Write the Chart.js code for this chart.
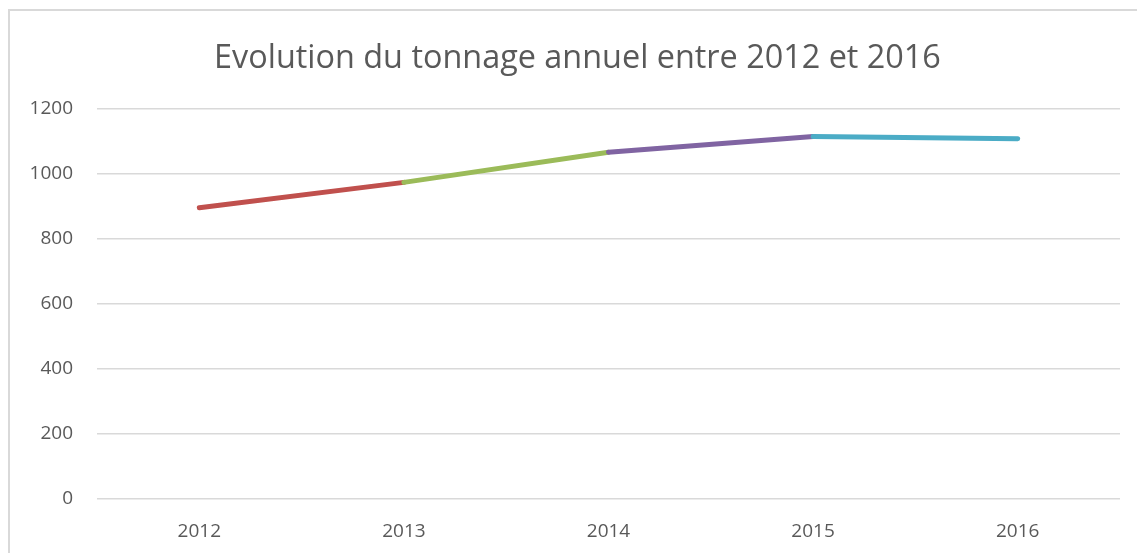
<!DOCTYPE html>
<html>
<head>
<meta charset="utf-8">
<script src="https://cdn.jsdelivr.net/npm/chart.js@4/dist/chart.umd.min.js"></script>
<style>
  html, body { margin: 0; padding: 0; background: #fff; overflow: hidden; }
  #frame {
    position: absolute; left: 8px; top: 9px;
    width: 1200px; height: 600px;
    border: 2px solid #d9d9d9;
  }
  #wrap { position: absolute; left: 0; top: 0; width: 1137px; height: 553px; }
</style>
</head>
<body>
<div id="frame"></div>
<div id="wrap"><canvas id="myChart"></canvas></div>
<script>
// Years and tonnage
const years = ["2012", "2013", "2014", "2015", "2016"];
const tonnage = [894, 972, 1065, 1113, 1106];
const yTicks = [0, 200, 400, 600, 800, 1000, 1200];

// One colour per segment (2012-13, 2013-14, 2014-15, 2015-16)
const segmentColors = ["#C0504D", "#9BBB59", "#8064A2", "#4BACC6"];

const textColor = "#595959";
const gridColor = "#d9d9d9";

// The original chart box runs past the right edge, so its title sits a bit right of centre
const titleShift = {
    id: "titleShift",
    afterLayout(chart) {
        if (chart.titleBlock) chart.titleBlock.left = 35;
    }
};

const config = {
    type: "line",
    data: {
        labels: years,
        datasets: [{
            label: "Tonnage",
            data: tonnage,
            borderWidth: 5,
            borderCapStyle: "round",
            borderJoinStyle: "round",
            pointRadius: 0,
            tension: 0,
            fill: false,
            borderColor: segmentColors[0],
            segment: {
                borderColor: ctx => segmentColors[ctx.p0DataIndex]
            }
        }]
    },
    options: {
        responsive: true,
        maintainAspectRatio: false,
        animation: false,
        events: [],
        layout: { padding: { left: 0, right: 17, top: 0, bottom: 0 } },
        plugins: {
            legend: { display: false },
            tooltip: { enabled: false },
            title: {
                display: true,
                text: "Evolution du tonnage annuel entre 2012 et 2016",
                color: textColor,
                font: { family: "'Open Sans', sans-serif", size: 32.4, weight: "normal" },
                padding: { top: 39, bottom: 30.4 }
            }
        },
        scales: {
            x: {
                offset: true,
                grid: { display: false, drawTicks: false },
                border: { display: false },
                ticks: {
                    color: textColor,
                    font: { family: "'Open Sans', sans-serif", size: 19 },
                    padding: 22,
                    maxRotation: 0
                },
                afterFit: scale => { scale.height = 553 - 498.3; }
            },
            y: {
                min: 0,
                max: 1200,
                afterBuildTicks: scale => { scale.ticks = yTicks.map(v => ({ value: v })); },
                grid: { color: gridColor, lineWidth: 1.5, drawTicks: false },
                border: { display: false },
                ticks: {
                    color: textColor,
                    font: { family: "'Open Sans', sans-serif", size: 19 },
                    padding: 24,
                    callback: value => String(value)
                },
                afterFit: scale => { scale.width = 97; }
            }
        }
    },
    plugins: [titleShift]
};

const myChart = new Chart(document.getElementById("myChart"), config);
</script>
</body>
</html>
